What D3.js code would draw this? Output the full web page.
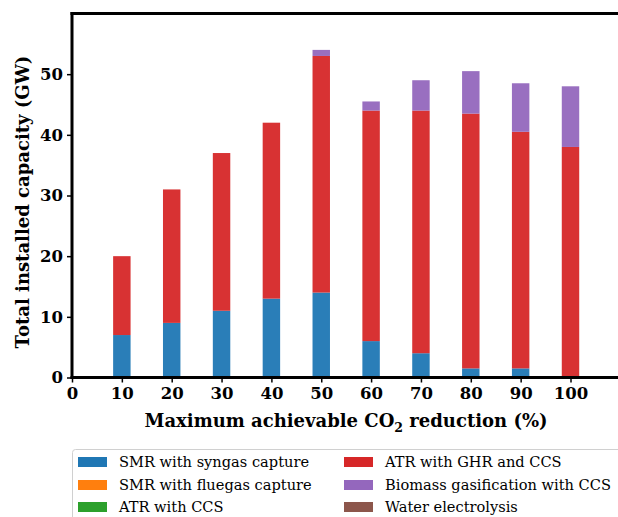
<!DOCTYPE html>
<html lang="en">
<head>
<meta charset="UTF-8">
<title>Installed capacity vs CO2 reduction</title>
<script src="https://d3js.org/d3.v7.min.js"></script>
<style>
    body { margin: 0; background: #fff; }
    svg { display: block; }
    .tick text { font-family: "DejaVu Serif", serif; font-weight: bold; font-size: 16.5px; fill: #000; }
</style>
</head>
<body>
<script>
    // data
    let reductions = [10, 20, 30, 40, 50, 60, 70, 80, 90, 100];
    let techNames = ["SMR with syngas capture", "SMR with fluegas capture", "ATR with CCS",
                     "ATR with GHR and CCS", "Biomass gasification with CCS", "Water electrolysis"];
    let smrSyngas  = [7, 9, 11, 13, 14, 6, 4, 1.5, 1.5, 0];
    let smrFluegas = [0, 0, 0, 0, 0, 0, 0, 0, 0, 0];
    let atrCcs     = [0, 0, 0, 0, 0, 0, 0, 0, 0, 0];
    let atrGhr     = [13, 22, 26, 29, 39, 38, 40, 42, 39, 38];
    let biomass    = [0, 0, 0, 0, 1, 1.5, 5, 7, 8, 10];
    let electro    = [0, 0, 0, 0, 0, 0, 0, 0, 0, 0];
    let xTicks = [0, 10, 20, 30, 40, 50, 60, 70, 80, 90, 100];
    let yTicks = [0, 10, 20, 30, 40, 50];

    let colors = ["#1f77b4", "#ff7f0e", "#2ca02c", "#d62728", "#9467bd", "#8c564b"];
    let series = [smrSyngas, smrFluegas, atrCcs, atrGhr, biomass, electro];

    let width = 618, height = 517;
    let margin = {left: 72, top: 13.5, bottom: 377.5};
    let barW = 3.5;

    let svg = d3.select("body").append("svg")
                .attr("width", width)
                .attr("height", height);

    let x = d3.scaleLinear().domain([0, 110]).range([margin.left, margin.left + 110 * 4.985]);
    let y = d3.scaleLinear().domain([0, 60]).range([margin.bottom, margin.top]);

    // table for d3.stack
    let table = reductions.map((r, i) => {
        let row = {r: r};
        techNames.forEach((n, k) => row[n] = series[k][i]);
        return row;
    });
    let stacked = d3.stack().keys(techNames)(table);

    svg.selectAll("g.layer")
       .data(stacked)
       .enter()
       .append("g")
       .attr("class", "layer")
       .attr("fill", (d, i) => colors[i])
       .selectAll("rect")
       .data(d => d.filter(p => p[1] - p[0] > 0))
       .enter()
       .append("rect")
       .attr("x", d => x(d.data.r - barW / 2))
       .attr("width", d => x(barW) - x(0))
       .attr("y", d => y(d[1]))
       .attr("height", d => y(d[0]) - y(d[1]))
       .attr("fill-opacity", 0.95);

    // axes
    let xAxis = d3.axisBottom(x).tickValues(xTicks).tickSize(5).tickPadding(5);
    let yAxis = d3.axisLeft(y).tickValues(yTicks).tickSize(5).tickPadding(4);

    let gx = svg.append("g").attr("transform", `translate(0, ${margin.bottom})`).call(xAxis);
    let gy = svg.append("g").attr("transform", `translate(${margin.left}, 0)`).call(yAxis);
    [gx, gy].forEach(g => {
        g.select(".domain").remove();
        g.selectAll(".tick line").attr("stroke", "#000").attr("stroke-width", 1.5);
    });

    // spines
    let spine = (x1, y1, x2, y2) => svg.append("line")
        .attr("x1", x1).attr("y1", y1).attr("x2", x2).attr("y2", y2)
        .attr("stroke", "#000").attr("stroke-width", 3).attr("stroke-linecap", "square");
    spine(margin.left, margin.top, width + 5, margin.top);
    spine(margin.left, margin.top, margin.left, margin.bottom);
    spine(margin.left, margin.bottom, width + 5, margin.bottom);

    // axis labels
    let xl = svg.append("text")
                .attr("x", 346)
                .attr("y", 427)
                .attr("text-anchor", "middle")
                .style("font-family", "'DejaVu Serif', serif")
                .style("font-weight", "bold")
                .style("font-size", "18px")
                .text("Maximum achievable CO");
    xl.append("tspan").attr("dy", 5).style("font-size", "12.5px").text("2");
    xl.append("tspan").attr("dy", -5).text(" reduction (%)");

    svg.append("text")
       .attr("transform", `translate(29, 202) rotate(-90)`)
       .attr("text-anchor", "middle")
       .style("font-family", "'DejaVu Serif', serif")
       .style("font-weight", "bold")
       .style("font-size", "18px")
       .text("Total installed capacity (GW)");

    // legend
    let legend = svg.append("g");
    legend.append("rect")
          .attr("x", 72.5).attr("y", 449.5)
          .attr("width", 560).attr("height", 80)
          .attr("rx", 3)
          .attr("fill", "#fff")
          .attr("stroke", "#d0d0d0");
    let colX = [78, 344], rowY = [462, 485, 507];
    techNames.forEach((n, i) => {
        let cx = colX[Math.floor(i / 3)], cy = rowY[i % 3];
        legend.append("rect")
              .attr("x", cx).attr("y", cy - 5)
              .attr("width", 29).attr("height", 10)
              .attr("fill", colors[i]);
        legend.append("text")
              .attr("x", cx + 41).attr("y", cy)
              .attr("dy", "0.35em")
              .style("font-family", "'DejaVu Serif', serif")
              .style("font-size", "14.6px")
              .text(n);
    });
</script>
</body>
</html>
